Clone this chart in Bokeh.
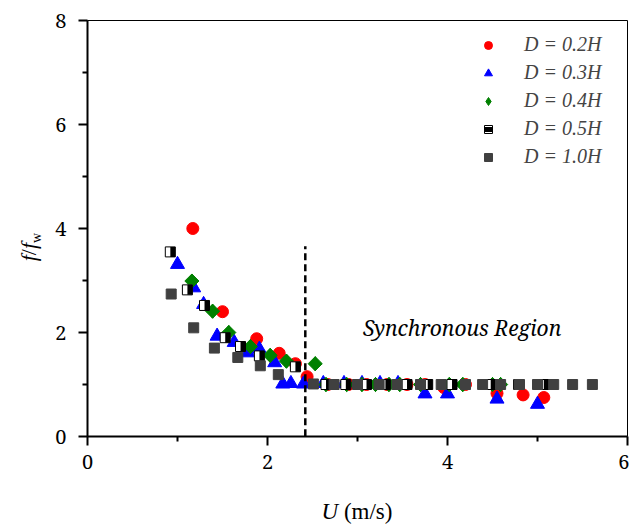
import math
from bokeh.plotting import figure
from bokeh.layouts import row, column
from bokeh.models import (FixedTicker, Label, Legend, LegendItem, Arrow,
                          ColumnDataSource, Div)
from bokeh.transform import dodge
from bokeh.embed import file_html
from bokeh.resources import INLINE

# ---------------- data ----------------
u02 = [1.17, 1.50, 1.88, 2.13, 2.31, 2.44, 2.67, 2.90, 3.10, 3.33, 3.55, 3.75,
       3.96, 4.20, 4.55, 4.84, 5.07]
f02 = [4.00, 2.40, 1.88, 1.60, 1.40, 1.15, 1.00, 1.00, 1.00, 1.00, 1.00, 1.00,
       0.94, 1.00, 0.83, 0.80, 0.75]

u03 = [1.00, 1.18, 1.29, 1.44, 1.63, 1.78, 1.91, 2.08, 2.17, 2.26, 2.40, 2.62,
       2.85, 3.05, 3.25, 3.45, 3.75, 4.00, 4.55, 5.00]
f03 = [3.31, 2.86, 2.54, 1.93, 1.81, 1.61, 1.68, 1.42, 1.01, 1.02, 1.01, 1.02,
       1.02, 1.02, 1.02, 1.02, 0.82, 0.82, 0.72, 0.62]

u04 = [1.16, 1.39, 1.57, 1.81, 2.03, 2.21, 2.53, 2.65, 2.88, 3.05, 3.20, 3.35,
       3.47, 3.70, 4.02, 4.17, 4.50, 4.59]
f04 = [2.99, 2.41, 2.00, 1.73, 1.56, 1.45, 1.40, 1.00, 1.00, 1.00, 1.00, 1.00,
       1.00, 1.00, 1.00, 1.00, 1.00, 1.00]

u05 = [0.92, 1.11, 1.30, 1.53, 1.70, 1.91, 2.31, 2.65, 2.87, 3.10, 3.31, 3.55,
       3.78, 4.05, 4.48, 4.79, 5.07]
f05 = [3.55, 2.82, 2.52, 1.90, 1.73, 1.55, 1.34, 1.00, 1.00, 1.00, 1.00, 1.00,
       1.00, 1.00, 1.00, 1.00, 1.00]

u10 = [0.93, 1.18, 1.41, 1.67, 1.92, 2.12, 2.51, 2.74, 3.00, 3.24, 3.44, 3.70,
       3.93, 4.20, 4.39, 4.59, 4.80, 5.00, 5.18, 5.39, 5.61]
f10 = [2.74, 2.09, 1.70, 1.52, 1.36, 1.19, 1.01, 1.00, 1.00, 1.00, 1.00, 1.00,
       1.00, 1.00, 1.00, 1.00, 1.00, 1.00, 1.00, 1.00, 1.00]

series_labels = ["D = 0.2H", "D = 0.3H", "D = 0.4H", "D = 0.5H", "D = 1.0H"]

boundary_u = 2.42
boundary_f = [-0.63, 3.66]
region_text = "Synchronous Region"
region_pos = [3.06, 2.09]

x_major = [0, 2, 4, 6]
x_minor = [1, 3, 5]
y_major = [0, 2, 4, 6, 8]
y_minor = [1, 3, 5, 7]

SERIF = "Noto Serif"
LEGEND_SERIF = "serif"
CSS_SERIF = "'Liberation Serif', 'Times New Roman', 'Noto Serif', serif"

# ---------------- figure ----------------
YL_W = 45          # width of the y-title column
P_W, P_H = 629 - YL_W, 480
XL_H = 527 - P_H

p = figure(width=P_W, height=P_H, x_range=(0, 6), y_range=(0, 8),
           output_backend="svg", toolbar_location=None,
           min_border_left=87 - YL_W, min_border_right=2, min_border_top=20,
           min_border_bottom=P_H - 436)
p.grid.visible = False
p.outline_line_color = "black"
p.outline_line_width = 1
p.background_fill_color = "white"
p.border_fill_color = "white"

p.xaxis.ticker = FixedTicker(ticks=x_major, minor_ticks=x_minor)
p.yaxis.ticker = FixedTicker(ticks=y_major, minor_ticks=y_minor)
for ax in (p.xaxis[0], p.yaxis[0]):
    ax.axis_line_width = 2
    ax.axis_line_color = "black"
    ax.major_tick_line_width = 2
    ax.minor_tick_line_width = 2
    ax.major_tick_line_color = "black"
    ax.minor_tick_line_color = "black"
    ax.major_tick_in = 0
    ax.major_tick_out = 9
    ax.minor_tick_in = 0
    ax.minor_tick_out = 5
    ax.major_label_text_font = SERIF
    ax.major_label_text_font_size = "20px"
    ax.major_label_text_color = "black"
p.xaxis.major_label_standoff = 9
p.yaxis.major_label_standoff = 12

s02 = ColumnDataSource(dict(u=u02, f=f02))
s03 = ColumnDataSource(dict(u=u03, f=f03))
s04 = ColumnDataSource(dict(u=u04, f=f04))
s05 = ColumnDataSource(dict(u=u05, f=f05))
s10 = ColumnDataSource(dict(u=u10, f=f10))

r02 = p.scatter("u", "f", source=s02, marker="circle", size=12,
                fill_color="#ff0000", line_color="#ff0000")
r03 = p.scatter("u", "f", source=s03, marker="triangle", size=14,
                fill_color="#0000ff", line_color="#0000ff")
# diamond glyph (used by the legend), hidden under the rotated squares below
r04L = p.scatter("u", "f", source=s04, marker="diamond", size=14,
                 fill_color="#008000", line_color="#008000")
r04 = p.scatter("u", "f", source=s04, marker="square", size=10,
                angle=math.pi / 4, fill_color="#008000", line_color="#008000")
r05a = p.scatter("u", "f", source=s05, marker="square", size=10,
                 fill_color="white", line_color="black", line_width=1)
r05b = p.scatter(dodge("u", 0.028, range=p.x_range), "f", source=s05,
                 marker="dash", size=10, angle=math.pi / 2,
                 line_color="black", line_width=5)
r10 = p.scatter("u", "f", source=s10, marker="square", size=10,
                fill_color="#404040", line_color="#404040")

legend = Legend(items=[
    LegendItem(label=series_labels[0], renderers=[r02]),
    LegendItem(label=series_labels[1], renderers=[r03]),
    LegendItem(label=series_labels[2], renderers=[r04L]),
    LegendItem(label=series_labels[3], renderers=[r05a, r05b]),
    LegendItem(label=series_labels[4], renderers=[r10]),
], location=(391, 268), padding=0, margin=0, spacing=5,
    glyph_width=20, glyph_height=20, label_standoff=26,
    label_text_font=LEGEND_SERIF, label_text_font_style="italic",
    label_text_font_size="20px", background_fill_alpha=0,
    border_line_alpha=0)
p.add_layout(legend)

p.add_layout(Arrow(end=None, x_start=boundary_u, y_start=boundary_f[0],
                   x_end=boundary_u, y_end=boundary_f[1],
                   line_color="black", line_width=2.5, line_dash="7 4"))

p.add_layout(Label(x=region_pos[0], y=region_pos[1], text=region_text,
                   text_font=SERIF, text_font_style="italic",
                   text_font_size="21px", text_color="black",
                   text_baseline="alphabetic"))

# ---------------- axis titles as HTML ----------------
xdiv = Div(width=P_W, height=XL_H, margin=0, text=(
    f'<div style="position:relative;width:{P_W}px;height:{XL_H}px;'
    f'font-family:{CSS_SERIF};font-size:23px;color:black;">'
    '<div style="position:absolute;left:212px;top:20px;width:200px;'
    'text-align:center;line-height:23px;white-space:nowrap;">'
    '<i>U</i> (m/s)</div></div>'))

ydiv = Div(width=YL_W, height=527, margin=0, text=(
    f'<div style="position:relative;width:{YL_W}px;height:527px;'
    f'font-family:{CSS_SERIF};font-size:22px;color:black;">'
    '<div style="position:absolute;left:-21px;top:232px;width:100px;'
    'height:30px;line-height:30px;text-align:center;white-space:nowrap;'
    'transform:rotate(-90deg);">'
    '<i>f</i>/<i>f</i><sub style="font-size:14px;line-height:0;">w</sub>'
    '</div></div>'))

layout = row(ydiv, column(p, xdiv, spacing=0), spacing=0)

open("out.html", "w").write(file_html(layout, INLINE))
